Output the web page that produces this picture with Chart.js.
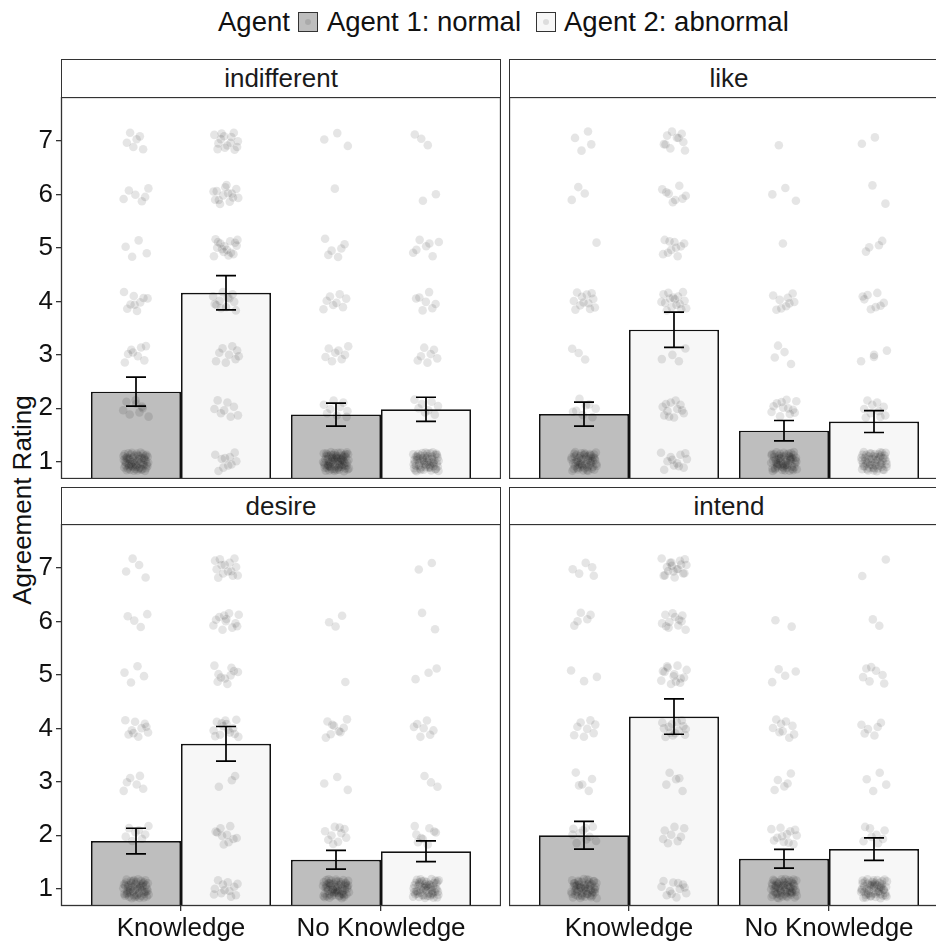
<!DOCTYPE html>
<html>
<head>
<meta charset="utf-8">
<script src="https://cdn.jsdelivr.net/npm/chart.js@4.4.1/dist/chart.umd.min.js"></script>
<style>
  html, body { margin: 0; padding: 0; width: 936px; height: 941px; overflow: hidden; background: #fff; }
  body { position: relative; font-family: "Liberation Sans", Arial, sans-serif; color: #111; }
  canvas { position: absolute; }
  .strip { position: absolute; box-sizing: border-box; border: 1.3px solid #333; background: #fff;
           text-align: center; font-size: 26px; line-height: 36px; color: #1a1a1a; }
  #legend { position: absolute; left: 218px; top: 7px; height: 30px; display: flex; align-items: center;
            font-size: 27.5px; white-space: nowrap; }
  .key { width: 20px; height: 20px; box-sizing: border-box; border: 1.3px solid #333; position: relative; }
  .key::after { content: ""; position: absolute; left: 6px; top: 6px; width: 6px; height: 6px;
                border-radius: 50%; background: rgba(0,0,0,0.1); }
  #ytitle { position: absolute; left: 22px; top: 500px; transform: translate(-50%, -50%) rotate(-90deg);
            font-size: 26px; white-space: nowrap; }
</style>
</head>
<body>
<div id="legend">
  <span>Agent</span>
  <span class="key" style="background:#bebebe;margin-left:8px"></span>
  <span style="margin-left:9px">Agent 1: normal</span>
  <span class="key" style="background:#f7f7f7;margin-left:15px"></span>
  <span style="margin-left:8px">Agent 2: abnormal</span>
</div>
<div id="ytitle">Agreement Rating</div>

<div class="strip" style="left:61px;top:59px;width:440px;height:39px">indifferent</div>
<div class="strip" style="left:509px;top:59px;width:440px;height:39px">like</div>
<div class="strip" style="left:61px;top:487px;width:440px;height:38px">desire</div>
<div class="strip" style="left:509px;top:487px;width:440px;height:38px">intend</div>

<canvas id="c0" width="501" height="382" style="left:0;top:97px"></canvas>
<canvas id="c1" width="440" height="382" style="left:509px;top:97px"></canvas>
<canvas id="c2" width="501" height="418" style="left:0;top:524px"></canvas>
<canvas id="c3" width="440" height="418" style="left:509px;top:524px"></canvas>

<script>
// facets, conditions and rating levels
const facets = ['indifferent', 'like', 'desire', 'intend'];
const conditions = ['Knowledge', 'No Knowledge'];
const agents = ['Agent 1: normal', 'Agent 2: abnormal'];
const ratingLevels = [1, 2, 3, 4, 5, 6, 7];

// mean rating per facet: [Knowledge, No Knowledge]
const meanNormal   = [[2.31, 1.88], [1.89, 1.58], [1.89, 1.54], [2.00, 1.56]];
const meanAbnormal = [[4.16, 1.98], [3.47, 1.75], [3.71, 1.70], [4.22, 1.74]];
// error bar half widths, same layout
const errNormal   = [[0.27, 0.215], [0.225, 0.19], [0.24, 0.175], [0.26, 0.175]];
const errAbnormal = [[0.32, 0.225], [0.33, 0.205], [0.325, 0.195], [0.33, 0.21]];

// number of responses at ratings 1..7, one row per facet
const countsNormalKnow = [
  [60, 9, 8, 9, 4, 6, 6],
  [55, 8, 3, 12, 1, 3, 4],
  [55, 8, 6, 10, 4, 4, 4],
  [55, 10, 5, 8, 3, 5, 5]
];
const countsAbnormalKnow = [
  [10, 8, 9, 12, 16, 14, 14],
  [12, 12, 4, 16, 10, 8, 10],
  [12, 10, 3, 14, 10, 12, 14],
  [12, 8, 5, 14, 14, 12, 18]
];
const countsNormalNoKnow = [
  [70, 9, 8, 8, 6, 1, 3],
  [60, 12, 4, 9, 1, 3, 1],
  [60, 10, 3, 9, 1, 3, 0],
  [60, 12, 5, 9, 4, 2, 0]
];
const countsAbnormalNoKnow = [
  [60, 8, 7, 7, 7, 2, 3],
  [55, 10, 4, 8, 4, 2, 2],
  [55, 9, 3, 7, 3, 2, 2],
  [55, 8, 4, 6, 7, 2, 2]
];

const FONT = { family: '"Liberation Sans", Arial, sans-serif', size: 26 };
const DODGE = 0.225;

// low-discrepancy sequence to spread points around their rating
function halton(i, b) {
  let f = 1, r = 0;
  while (i > 0) { f /= b; r += f * (i % b); i = Math.floor(i / b); }
  return r;
}

function jitterPoints(counts, xCenter, seed) {
  const pts = [];
  let idx = seed;
  counts.forEach((n, li) => {
    for (let k = 0; k < n; k++) {
      idx++;
      pts.push({
        x: xCenter + (halton(idx, 2) - 0.5) * 0.13,
        y: ratingLevels[li] + (halton(idx, 3) - 0.5) * 0.36
      });
    }
  });
  return pts;
}

// no extra room for overhanging tick labels
function noPadding(s) {
  s.paddingTop = 0; s.paddingBottom = 0; s.paddingLeft = 0; s.paddingRight = 0;
}

const errorBars = {
  id: 'errorBars',
  afterDatasetsDraw(chart) {
    const ctx = chart.ctx;
    const xs = chart.scales.x, ys = chart.scales.y;
    const capHalf = xs.getPixelForValue(1.05) - xs.getPixelForValue(1);
    ctx.save();
    ctx.strokeStyle = '#000';
    ctx.lineWidth = 1.7;
    chart.data.datasets.forEach((ds, i) => {
      if (!ds.errors) return;
      const meta = chart.getDatasetMeta(i);
      meta.data.forEach((bar, j) => {
        const m = ds.data[j].y, e = ds.errors[j];
        const top = ys.getPixelForValue(m + e), bot = ys.getPixelForValue(m - e);
        ctx.beginPath();
        ctx.moveTo(bar.x, top); ctx.lineTo(bar.x, bot);
        ctx.moveTo(bar.x - capHalf, top); ctx.lineTo(bar.x + capHalf, top);
        ctx.moveTo(bar.x - capHalf, bot); ctx.lineTo(bar.x + capHalf, bot);
        ctx.stroke();
      });
    });
    ctx.restore();
  },
  afterDraw(chart) {
    // panel border
    const a = chart.chartArea, ctx = chart.ctx;
    ctx.save();
    ctx.strokeStyle = '#333';
    ctx.lineWidth = 1.3;
    ctx.strokeRect(a.left + 0.5, a.top + 0.5, a.right - a.left - 1, a.bottom - a.top - 1);
    ctx.restore();
  }
};

function makePanel(canvasId, f, showY, showX) {
  const normalPts = [], abnormalPts = [];
  [countsNormalKnow, countsNormalNoKnow].forEach((c, ci) =>
    normalPts.push(...jitterPoints(c[f], ci + 1 - DODGE, f * 400 + ci * 200)));
  [countsAbnormalKnow, countsAbnormalNoKnow].forEach((c, ci) =>
    abnormalPts.push(...jitterPoints(c[f], ci + 1 + DODGE, f * 400 + ci * 200 + 100)));

  new Chart(document.getElementById(canvasId), {
    type: 'bar',
    data: {
      datasets: [
        { type: 'scatter', data: normalPts, pointRadius: 4.3, borderWidth: 0,
          backgroundColor: 'rgba(0,0,0,0.1)', order: 0, clip: 0 },
        { type: 'scatter', data: abnormalPts, pointRadius: 4.3, borderWidth: 0,
          backgroundColor: 'rgba(0,0,0,0.1)', order: 0, clip: 0 },
        { label: agents[0], data: conditions.map((c, i) => ({ x: i + 1, y: meanNormal[f][i] })),
          errors: errNormal[f], backgroundColor: '#bebebe', borderColor: '#111', borderWidth: 1.7,
          borderSkipped: false, categoryPercentage: 0.9, barPercentage: 1, order: 1, clip: 0 },
        { label: agents[1], data: conditions.map((c, i) => ({ x: i + 1, y: meanAbnormal[f][i] })),
          errors: errAbnormal[f], backgroundColor: '#f7f7f7', borderColor: '#111', borderWidth: 1.7,
          borderSkipped: false, categoryPercentage: 0.9, barPercentage: 1, order: 1, clip: 0 }
      ]
    },
    options: {
      responsive: false,
      animation: false,
      events: [],
      layout: { padding: 0, autoPadding: false },
      plugins: { legend: { display: false }, tooltip: { enabled: false } },
      scales: {
        x: {
          type: 'linear', min: 0.4, max: 2.6, offset: false,
          afterBuildTicks: s => { s.ticks = conditions.map((c, i) => ({ value: i + 1 })); },
          afterFit: s => { s.height = showX ? 36 : 0; noPadding(s); },
          border: { display: false },
          grid: { display: showX, offset: false, drawOnChartArea: false, tickLength: 5,
                  color: '#333', lineWidth: 1.3 },
          ticks: { display: showX, maxRotation: 0, autoSkip: false, padding: 2, color: '#111', font: FONT,
                   callback: v => conditions[v - 1] }
        },
        y: {
          type: 'linear', min: 0.675, max: 7.825,
          display: showY,
          afterBuildTicks: s => { s.ticks = ratingLevels.map(v => ({ value: v })); },
          afterFit: s => { s.width = showY ? 61 : 0; noPadding(s); },
          border: { display: false },
          grid: { drawOnChartArea: false, tickLength: 5, color: '#333', lineWidth: 1.3 },
          ticks: { padding: 3, color: '#111', font: FONT }
        }
      }
    },
    plugins: [errorBars]
  });
}

makePanel('c0', 0, true, false);
makePanel('c1', 1, false, false);
makePanel('c2', 2, true, true);
makePanel('c3', 3, false, true);
</script>
</body>
</html>
